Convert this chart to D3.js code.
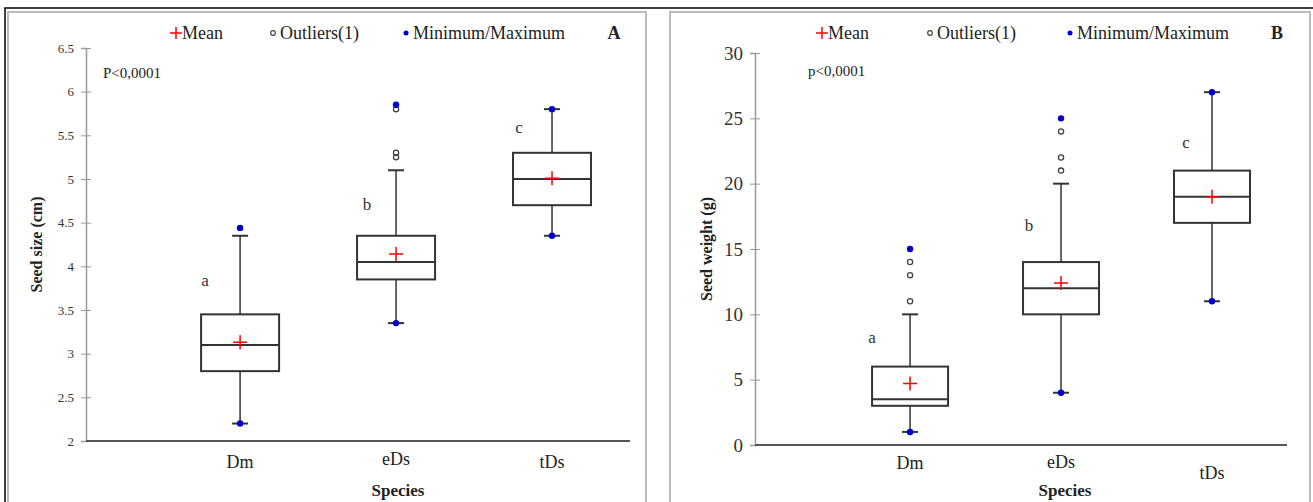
<!DOCTYPE html>
<html>
<head>
<meta charset="utf-8">
<script src="https://cdn.jsdelivr.net/npm/d3@7/dist/d3.min.js"></script>
<style>
  body { margin: 0; background: #fff; }
  svg text { font-family: "Liberation Serif", serif; }
</style>
</head>
<body>
<svg id="chart" width="1313" height="502"></svg>
<script>
var species = ["Dm", "eDs", "tDs"];
var letters = ["a", "b", "c"];

// panel A: seed size (cm)
var sizeTicks = [2, 2.5, 3, 3.5, 4, 4.5, 5, 5.5, 6, 6.5];
var sizeMin = [2.2, 3.35, 4.35];
var sizeQ1 = [2.8, 3.85, 4.7];
var sizeMedian = [3.1, 4.05, 5.0];
var sizeQ3 = [3.45, 4.35, 5.3];
var sizeWhiskerHigh = [4.35, 5.1, 5.8];
var sizeMax = [4.44, 5.85, 5.8];
var sizeMean = [3.13, 4.14, 5.01];
var sizeOutliers = [[], [5.25, 5.3, 5.8], []];

// panel B: seed weight (g)
var weightTicks = [0, 5, 10, 15, 20, 25, 30];
var weightMin = [1, 4, 11];
var weightQ1 = [3, 10, 17];
var weightMedian = [3.5, 12, 19];
var weightQ3 = [6, 14, 21];
var weightWhiskerHigh = [10, 20, 27];
var weightMax = [15, 25, 27];
var weightMean = [4.7, 12.4, 19];
var weightOutliers = [[11, 13, 14], [21, 22, 24], []];

var svg = d3.select("#chart");

// outer frame
svg.append("path").attr("d", "M5,502V8H1313").attr("fill", "none").attr("stroke", "#000").attr("stroke-width", 1.5);
svg.append("rect").attr("x", 8).attr("y", 12).attr("width", 638).attr("height", 500)
  .attr("fill", "none").attr("stroke", "#bbb").attr("stroke-width", 2);
svg.append("rect").attr("x", 670).attr("y", 12).attr("width", 640).attr("height", 500)
  .attr("fill", "none").attr("stroke", "#bbb").attr("stroke-width", 2);

drawPanel({
  left: 86, right: 630, top: 48, bottom: 441,
  padding: 0.744, align: 0.664,
  domain: [2, 6.5], ticks: sizeTicks, tickSize: 13,
  min: sizeMin, q1: sizeQ1, med: sizeMedian, q3: sizeQ3, wHigh: sizeWhiskerHigh,
  max: sizeMax, mean: sizeMean, outliers: sizeOutliers,
  boxW: 78, yTitle: "Seed size (cm)", yTitleX: 36, pText: "P<0,0001", pX: 103, pY: 78,
  letterPos: [[205, 286], [367, 210], [519, 133]],
  catY: [468, 465, 468], speciesX: 398, speciesY: 496,
  legend: [176, 273, 406], legendY: 33, panel: "A", panelX: 614
});

drawPanel({
  left: 755, right: 1287, top: 53, bottom: 445,
  padding: 0.762, align: 0.674,
  domain: [0, 30], ticks: weightTicks, tickSize: 19,
  min: weightMin, q1: weightQ1, med: weightMedian, q3: weightQ3, wHigh: weightWhiskerHigh,
  max: weightMax, mean: weightMean, outliers: weightOutliers,
  boxW: 76, yTitle: "Seed weight (g)", yTitleX: 706, pText: "p<0,0001", pX: 808, pY: 76,
  letterPos: [[872, 343], [1029, 231], [1186, 148]],
  catY: [469, 468, 479], speciesX: 1065, speciesY: 496,
  legend: [822, 930, 1070], legendY: 33, panel: "B", panelX: 1277
});

function drawPanel(o) {
  var g = svg.append("g").attr("font-family", "Liberation Serif");
  var x = d3.scalePoint().domain(species).range([o.left, o.right]).padding(o.padding).align(o.align);
  var y = d3.scaleLinear().domain(o.domain).range([o.bottom, o.top]);

  // y axis
  var yAxis = g.append("g").attr("transform", "translate(" + o.left + ",0)")
    .call(d3.axisLeft(y).tickValues(o.ticks).tickSize(5).tickFormat(d3.format("~g")))
    .attr("font-family", "Liberation Serif");
  yAxis.select(".domain").attr("stroke", "#999").attr("stroke-width", 1.5);
  yAxis.selectAll(".tick line").attr("stroke", "#999").attr("x2", 5).attr("x1", -5);
  yAxis.selectAll(".tick text").attr("x", -12).attr("fill", "#333")
    .style("font-size", o.tickSize + "px");

  // x axis line
  g.append("line").attr("x1", o.left).attr("x2", o.right).attr("y1", o.bottom).attr("y2", o.bottom)
    .attr("stroke", "#555").attr("stroke-width", 2);

  // category labels
  g.selectAll(".cat").data(species).enter().append("text")
    .attr("x", function(d) { return x(d); })
    .attr("y", function(d, i) { return o.catY[i]; })
    .attr("text-anchor", "middle").style("font-size", "18px").attr("fill", "#222")
    .text(function(d) { return d; });

  g.append("text").attr("x", o.speciesX).attr("y", o.speciesY).attr("text-anchor", "middle")
    .style("font-size", "17px").style("font-weight", "bold").attr("fill", "#222").text("Species");

  g.append("text").attr("transform", "translate(" + o.yTitleX + "," + ((o.top + o.bottom) / 2) + ") rotate(-90)")
    .attr("text-anchor", "middle").attr("dy", "0.35em")
    .style("font-size", "16px").style("font-weight", "bold").attr("fill", "#222").text(o.yTitle);

  g.append("text").attr("x", o.pX).attr("y", o.pY).style("font-size", "15px").attr("fill", "#222").text(o.pText);

  var boxes = g.selectAll(".box").data(species).enter().append("g");
  var stroke = "#333";

  // whiskers
  boxes.append("line")
    .attr("x1", function(d) { return x(d); }).attr("x2", function(d) { return x(d); })
    .attr("y1", function(d, i) { return y(o.wHigh[i]); })
    .attr("y2", function(d, i) { return y(o.min[i]); })
    .attr("stroke", stroke).attr("stroke-width", 1.5);
  [o.wHigh, o.min].forEach(function(arr) {
    boxes.append("line")
      .attr("x1", function(d) { return x(d) - 8; }).attr("x2", function(d) { return x(d) + 8; })
      .attr("y1", function(d, i) { return y(arr[i]); }).attr("y2", function(d, i) { return y(arr[i]); })
      .attr("stroke", stroke).attr("stroke-width", 2);
  });

  // box
  boxes.append("rect")
    .attr("x", function(d) { return x(d) - o.boxW / 2; })
    .attr("width", o.boxW)
    .attr("y", function(d, i) { return y(o.q3[i]); })
    .attr("height", function(d, i) { return y(o.q1[i]) - y(o.q3[i]); })
    .attr("fill", "#fff").attr("stroke", stroke).attr("stroke-width", 2);
  boxes.append("line")
    .attr("x1", function(d) { return x(d) - o.boxW / 2; }).attr("x2", function(d) { return x(d) + o.boxW / 2; })
    .attr("y1", function(d, i) { return y(o.med[i]); }).attr("y2", function(d, i) { return y(o.med[i]); })
    .attr("stroke", stroke).attr("stroke-width", 2);

  // mean crosses
  boxes.append("path")
    .attr("d", function(d, i) {
      var cx = x(d), cy = y(o.mean[i]);
      return "M" + (cx - 7) + "," + cy + "H" + (cx + 7) + "M" + cx + "," + (cy - 7) + "V" + (cy + 7);
    })
    .attr("stroke", "#f00").attr("stroke-width", 1.5);

  // outliers
  boxes.each(function(d, i) {
    d3.select(this).selectAll(".out").data(o.outliers[i]).enter().append("circle")
      .attr("cx", x(d)).attr("cy", function(v) { return y(v); }).attr("r", 2.6)
      .attr("fill", "none").attr("stroke", "#444").attr("stroke-width", 1.3);
  });

  // min / max dots
  [o.min, o.max].forEach(function(arr) {
    boxes.append("circle")
      .attr("cx", function(d) { return x(d); })
      .attr("cy", function(d, i) { return y(arr[i]); })
      .attr("r", 3.2).attr("fill", "#00c");
  });

  // significance letters
  g.selectAll(".letter").data(letters).enter().append("text")
    .attr("x", function(d, i) { return o.letterPos[i][0]; })
    .attr("y", function(d, i) { return o.letterPos[i][1]; })
    .attr("text-anchor", "middle").style("font-size", "17px").attr("fill", "#333")
    .text(function(d) { return d; });

  // legend
  var ly = o.legendY;
  var lx = o.legend;
  g.append("path").attr("d", "M" + (lx[0] - 6) + "," + ly + "H" + (lx[0] + 6) + "M" + lx[0] + "," + (ly - 6) + "V" + (ly + 6))
    .attr("stroke", "#f00").attr("stroke-width", 1.5);
  g.append("text").attr("x", lx[0] + 6).attr("y", ly + 6).style("font-size", "18px").attr("fill", "#222").text("Mean");
  g.append("circle").attr("cx", lx[1]).attr("cy", ly).attr("r", 2.3)
    .attr("fill", "none").attr("stroke", "#444").attr("stroke-width", 1.2);
  g.append("text").attr("x", lx[1] + 7).attr("y", ly + 6).style("font-size", "18px").attr("fill", "#222").text("Outliers(1)");
  g.append("circle").attr("cx", lx[2]).attr("cy", ly).attr("r", 2.5).attr("fill", "#00c");
  g.append("text").attr("x", lx[2] + 7).attr("y", ly + 6).style("font-size", "18px").attr("fill", "#222").text("Minimum/Maximum");
  g.append("text").attr("x", o.panelX).attr("y", ly + 6).attr("text-anchor", "middle")
    .style("font-size", "18px").style("font-weight", "bold").attr("fill", "#222").text(o.panel);
}
</script>
</body>
</html>
